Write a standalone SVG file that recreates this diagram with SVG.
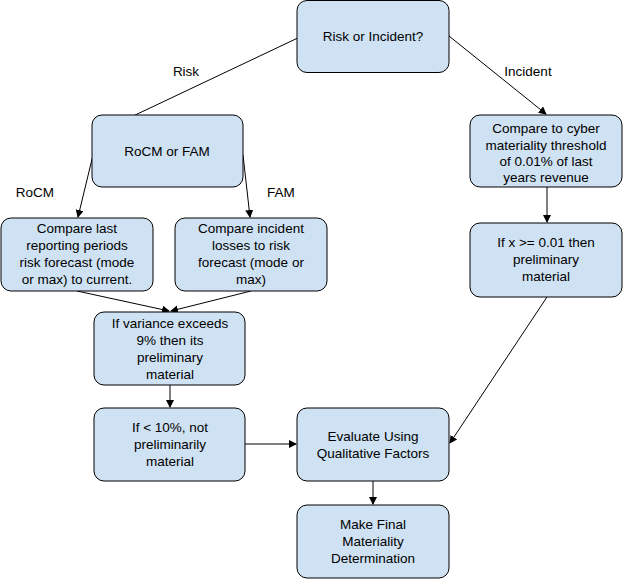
<svg xmlns="http://www.w3.org/2000/svg" width="623" height="581" viewBox="0 0 623 581">
<style>
.n rect{fill:#cfe2f3;stroke:#000;stroke-width:1}
text{font-family:"Liberation Sans",Arial,sans-serif;font-size:13.5px;fill:#000;text-anchor:middle}
.c line{stroke:#000;stroke-width:1;marker-end:url(#a)}
</style>
<defs><marker id="a" markerWidth="8" markerHeight="8" refX="7" refY="4" orient="auto" markerUnits="userSpaceOnUse"><path d="M0,0L8,4L0,8z" fill="#000"/></marker></defs>
<g class="c">
<line x1="302" y1="36" x2="93" y2="135"/>
<line x1="449" y1="36" x2="546" y2="114"/>
<line x1="93" y1="155" x2="78" y2="217"/>
<line x1="243" y1="155" x2="250" y2="217"/>
<line x1="77" y1="291" x2="169" y2="311"/>
<line x1="251" y1="291" x2="171" y2="311"/>
<line x1="170" y1="385" x2="170" y2="407"/>
<line x1="245" y1="444" x2="296" y2="444"/>
<line x1="547" y1="187" x2="547" y2="222"/>
<line x1="547" y1="297" x2="450" y2="443"/>
<line x1="373" y1="481" x2="373" y2="504"/>
<text x="186" y="76">Risk</text>
<text x="528" y="76">Incident</text>
<text x="35" y="197">RoCM</text>
<text x="281" y="197">FAM</text>
</g>
<g id="n1" class="n"><rect x="297" y="0.5" width="152" height="72" rx="10"/><text x="373" y="41">Risk or Incident?</text></g>
<g id="n2" class="n"><rect x="92" y="115" width="151" height="72" rx="10"/><text x="167" y="156">RoCM or FAM</text></g>
<g id="n3" class="n"><rect x="470" y="115" width="152" height="72" rx="10"/><text x="546" y="133">Compare to cyber</text><text x="546" y="150">materiality threshold</text><text x="546" y="166">of 0.01% of last</text><text x="546" y="182">years revenue</text></g>
<g id="n4" class="n"><rect x="1" y="218" width="152" height="73" rx="10"/><text x="77" y="233">Compare last</text><text x="77" y="250">reporting periods</text><text x="77" y="267">risk forecast (mode</text><text x="77" y="284">or max) to current.</text></g>
<g id="n5" class="n"><rect x="175" y="218" width="152" height="73" rx="10"/><text x="251" y="233">Compare incident</text><text x="251" y="250">losses to risk</text><text x="251" y="267">forecast (mode or</text><text x="251" y="284">max)</text></g>
<g id="n6" class="n"><rect x="470" y="223" width="152" height="74" rx="10"/><text x="546" y="247">If x &gt;= 0.01 then</text><text x="546" y="264">preliminary</text><text x="546" y="281">material</text></g>
<g id="n7" class="n"><rect x="94" y="312" width="151" height="73" rx="10"/><text x="170" y="328">If variance exceeds</text><text x="170" y="345">9% then its</text><text x="170" y="362">preliminary</text><text x="170" y="379">material</text></g>
<g id="n8" class="n"><rect x="94" y="408" width="151" height="73" rx="10"/><text x="170" y="432">If &lt; 10%, not</text><text x="170" y="449">preliminarily</text><text x="170" y="466">material</text></g>
<g id="n9" class="n"><rect x="297" y="408" width="152" height="73" rx="10"/><text x="373" y="441">Evaluate Using</text><text x="373" y="458">Qualitative Factors</text></g>
<g id="n10" class="n"><rect x="297" y="505" width="152" height="73" rx="10"/><text x="373" y="529">Make Final</text><text x="373" y="546">Materiality</text><text x="373" y="563">Determination</text></g>
</svg>
